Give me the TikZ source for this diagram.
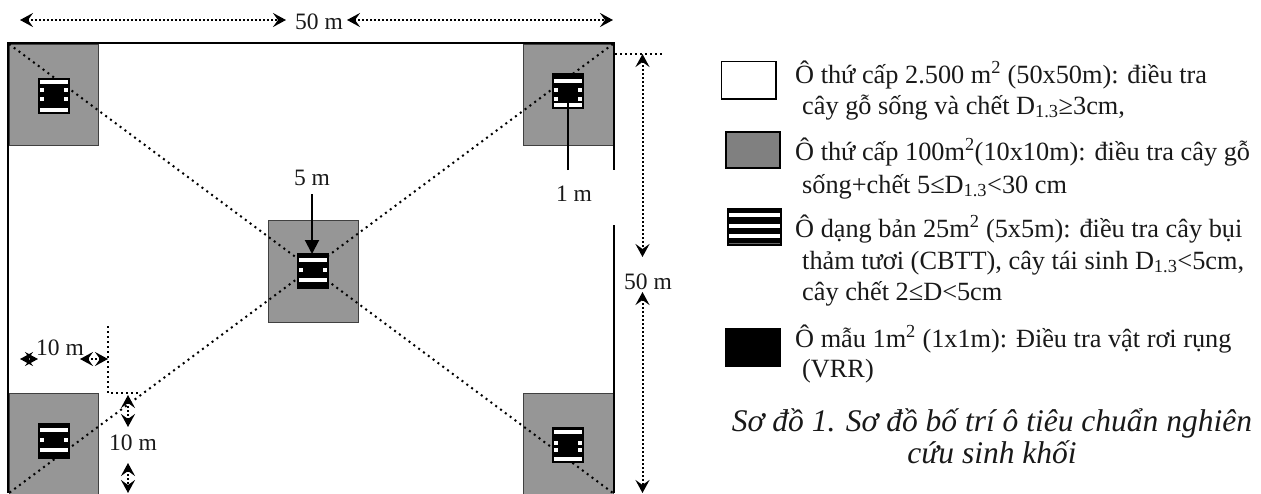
\documentclass[tikz,border=0pt]{standalone}
\usepackage{fontspec}
\setmainfont{Liberation Serif}
\usetikzlibrary{arrows.meta}
\definecolor{plotgray}{HTML}{969696}
\definecolor{keygray}{HTML}{808080}
\tikzset{
  x=1pt,y=-1pt,
  dimline/.style={line width=2pt,dash pattern=on 2pt off 2pt,{Stealth[length=13pt,width=14pt,inset=5pt]}-{Stealth[length=13pt,width=14pt,inset=5pt]}},
  diag/.style={line width=2pt,dash pattern=on 2pt off 4pt},
  guide/.style={line width=2pt,dash pattern=on 2pt off 3pt},
  wall/.style={line width=2pt,black},
  subplot/.style={fill=plotgray,draw=black!75,line width=1pt},
  lbl/.style={font=\fontsize{23.5}{28}\selectfont,inner sep=0pt,text=black!90},
  keytext/.style={anchor=base west,font=\fontsize{26.3}{30}\selectfont,inner sep=0pt,text=black!90},
  captext/.style={anchor=base,font=\itshape\fontsize{31.5}{36}\selectfont,inner sep=0pt,text=black!90},
  pics/plotmark/.style n args={4}{code={
    \fill[black] (0,0) rectangle (32,36);
    \fill[white] (2,#1) rectangle (30,#1+4);
    \fill[white] (2,#4) rectangle (30,#4+4);
    \fill[white] (2,#2) rectangle (6,#2+4);
    \fill[white] (26,#2) rectangle (30,#2+4);
    \fill[white] (2,#3) rectangle (6,#3+4);
    \fill[white] (26,#3) rectangle (30,#3+4);
  }}
}
\begin{document}
\begin{tikzpicture}
\useasboundingbox (0,0) rectangle (1261,493);
\clip (0,0) rectangle (1261,493);
% subplots
\fill[white] (0,0) rectangle (1261,493);
\draw[subplot] (9,44) rectangle (98,145);
\draw[subplot] (523,44) rectangle (613,145);
\draw[subplot] (268,220) rectangle (358,322);
\draw[subplot] (9,393) rectangle (98,500);
\draw[subplot] (523,393) rectangle (613,500);
% diagonals
\coordinate (cTL) at (9,44);
\coordinate (cTR) at (613,44);
\coordinate (cBL) at (9,493);
\coordinate (cBR) at (613,493);
\draw[diag] (cTL) -- (cBR);
\draw[diag] (cTR) -- (cBL);
% frame
\draw[wall] (8,493) -- (8,43) -- (614,43) -- (614,170);
\draw[wall] (614,225) -- (614,493);
% marks
\pic at (38,78) {plotmark={2}{10}{19}{30}};
\pic at (552,73) {plotmark={6}{15}{24}{30}};
\pic at (297,253) {plotmark={5}{15}{15}{25}};
\pic at (38,423) {plotmark={5}{15}{15}{25}};
\pic at (552,427) {plotmark={3}{14}{21}{30}};
% centre sample arrows
\coordinate (a5s) at (312,194);
\coordinate (a5e) at (312,254);
\draw[line width=2pt,-{Stealth[length=14pt,width=14pt,inset=0pt]}] (a5s) -- (a5e);
\node[lbl] (l5) at (312,178) {5 m};
\coordinate (a1s) at (568,170);
\coordinate (a1e) at (568,88);
\draw[line width=2pt,-{Stealth[length=14pt,width=14pt,inset=0pt]}] (a1s) -- (a1e);
\node[lbl] (l1) at (574,194) {1 m};
% top dimension
\node[lbl] (top) at (319,22) {50 m};
\coordinate (t1) at (20,20);
\coordinate (t2) at (286,20);
\coordinate (t3) at (347,20);
\coordinate (t4) at (613,20);
\draw[dimline] (t1) -- (t2);
\draw[dimline] (t3) -- (t4);
% right dimension
\coordinate (g1) at (615,54);
\coordinate (g2) at (663,54);
\draw[guide] (g1) -- (g2);
\node[lbl] (right) at (648,282) {50 m};
\coordinate (r1) at (642.5,54);
\coordinate (r2) at (642.5,257);
\coordinate (r3) at (642.5,292);
\coordinate (r4) at (642.5,493);
\draw[dimline] (r1) -- (r2);
\draw[dimline] (r3) -- (r4);
% 10 m horizontal
\node[lbl] (h10) at (60,348) {10 m};
\coordinate (h1) at (20,359);
\coordinate (h2) at (38,359);
\coordinate (h3) at (80,359);
\coordinate (h4) at (108,359);
\draw[dimline] (h1) -- (h2);
\draw[dimline] (h3) -- (h4);
\coordinate (k1) at (108,326);
\coordinate (k2) at (108,393);
\coordinate (k3) at (140,393);
\draw[guide] (k1) -- (k2) -- (k3);
% 10 m vertical
\node[lbl] (v10) at (133,443) {10 m};
\coordinate (v1) at (128,395);
\coordinate (v2) at (128,427);
\coordinate (v3) at (128,463);
\coordinate (v4) at (128,493);
\draw[dimline] (v1) -- (v2);
\draw[dimline] (v3) -- (v4);
% legend swatches
\draw[line width=1.6pt,fill=white] (721.5,61.5) rectangle (776,99);
\draw[line width=2pt,fill=keygray] (725.5,131.5) rectangle (780,168);
\fill[black] (727,208) rectangle (782,246);
\fill[white] (729,213) rectangle (780,217);
\fill[white] (729,224) rectangle (780,228);
\fill[white] (729,234) rectangle (780,238);
\fill[black!60] (729,243) rectangle (780,244);
\fill[black] (725,328) rectangle (781,367);
% legend text
\node[keytext] (k01) at (795,83) {Ô thứ cấp 2.500 m\textsuperscript{2} (50x50m): điều tra};
\node[keytext] (k02) at (802,114) {cây gỗ sống và chết D\textsubscript{1.3}≥3cm,};
\node[keytext] (k03) at (795,160) {Ô thứ cấp 100m\textsuperscript{2}(10x10m): điều tra cây gỗ};
\node[keytext] (k04) at (802,193) {sống+chết 5≤D\textsubscript{1.3}<30 cm};
\node[keytext] (k05) at (795,237) {Ô dạng bản 25m\textsuperscript{2} (5x5m): điều tra cây bụi};
\node[keytext] (k06) at (802,269) {thảm tươi (CBTT), cây tái sinh D\textsubscript{1.3}<5cm,};
\node[keytext] (k07) at (802,300) {cây chết 2≤D<5cm};
\node[keytext] (k08) at (795,347) {Ô mẫu 1m\textsuperscript{2} (1x1m): Điều tra vật rơi rụng};
\node[keytext] (k09) at (802,377) {(VRR)};
\node[captext] (c1) at (992,431) {Sơ đồ 1. Sơ đồ bố trí ô tiêu chuẩn nghiên};
\node[captext] (c2) at (992,463) {cứu sinh khối};
\end{tikzpicture}
\end{document}
